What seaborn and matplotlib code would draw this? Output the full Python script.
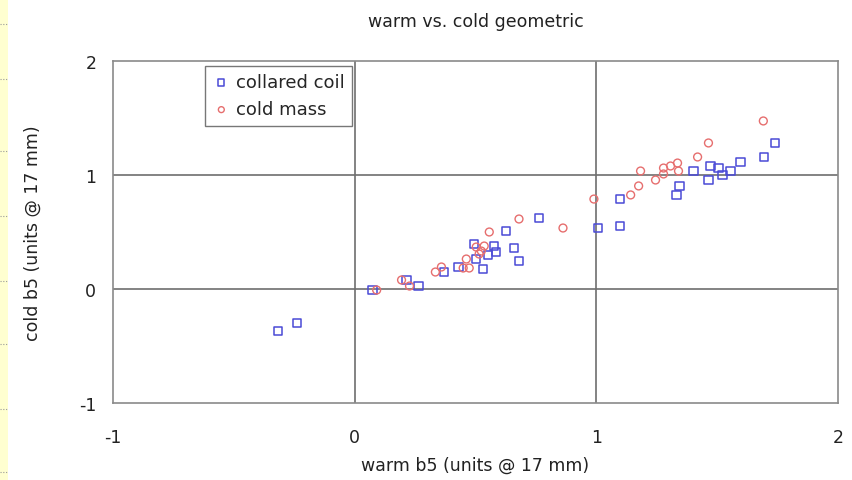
import numpy as np
import pandas as pd
import matplotlib
matplotlib.use("Agg")
import matplotlib.pyplot as plt
import seaborn as sns
from matplotlib.patches import Rectangle
from matplotlib.lines import Line2D

# ---- data ----
coil_warm = [-0.318, -0.239, 0.074, 0.214, 0.264, 0.371, 0.429, 0.532, 0.495, 0.503,
             0.577, 0.586, 0.553, 0.627, 0.660, 0.680, 0.763, 1.006, 1.097, 1.097,
             1.332, 1.344, 1.402, 1.464, 1.472, 1.505, 1.522, 1.555, 1.596, 1.695, 1.740]
coil_cold = [-0.368, -0.298, -0.009, 0.079, 0.026, 0.149, 0.193, 0.175, 0.395, 0.263,
             0.377, 0.325, 0.298, 0.509, 0.360, 0.246, 0.623, 0.535, 0.553, 0.789,
             0.825, 0.904, 1.035, 0.956, 1.079, 1.061, 0.999, 1.035, 1.114, 1.158, 1.281]

mass_warm = [0.091, 0.194, 0.227, 0.334, 0.359, 0.449, 0.474, 0.462, 0.503, 0.515,
             0.524, 0.536, 0.557, 0.680, 0.862, 0.990, 1.142, 1.175, 1.183, 1.245,
             1.278, 1.278, 1.307, 1.336, 1.340, 1.419, 1.464, 1.691]
mass_cold = [-0.009, 0.079, 0.026, 0.149, 0.193, 0.184, 0.184, 0.263, 0.368, 0.307,
             0.333, 0.377, 0.500, 0.614, 0.535, 0.789, 0.825, 0.904, 1.035, 0.956,
             1.009, 1.061, 1.079, 1.105, 1.035, 1.158, 1.281, 1.474]

series_labels = ["collared coil", "cold mass"]
ticks = [-1, 0, 1, 2]

BLUE = "#4a4ad6"
RED = "#e66e6e"
GRID = "#6e6e6e"

sns.set_theme(style="white")
plt.rcParams["font.family"] = ["DejaVu Sans"]

fig = plt.figure(figsize=(8.53, 4.81), dpi=100)
ax = fig.add_axes([113/853, 1-404/481, (838-113)/853, (404-62)/481])

# left decorative strip
fig.patches.append(Rectangle((0, 0), 8/853, 1, transform=fig.transFigure,
                             facecolor="#ffffd0", edgecolor="none", zorder=0))
for yp in [25, 80, 152, 217, 282, 345, 410, 473]:
    fig.lines.append(Line2D([0, 7/853], [1-yp/481]*2, transform=fig.transFigure,
                            color="#9a9a9a", lw=0.8, ls=(0, (1, 1.5))))

df_coil = pd.DataFrame({"warm": coil_warm, "cold": coil_cold})
df_mass = pd.DataFrame({"warm": mass_warm, "cold": mass_cold})

sns.scatterplot(data=df_coil, x="warm", y="cold", ax=ax, marker="s", s=36,
                facecolors="none", edgecolor=BLUE, linewidth=1.1,
                label=series_labels[0], zorder=3)
sns.scatterplot(data=df_mass, x="warm", y="cold", ax=ax, marker="o", s=32,
                facecolors="none", edgecolor=RED, linewidth=1.0,
                label=series_labels[1], zorder=3)

ax.set_xlim(-1, 2)
ax.set_ylim(-1, 2)
ax.set_xticks(ticks)
ax.set_yticks(ticks)
ax.set_xticklabels([str(t) for t in ticks])
ax.set_yticklabels([str(t) for t in ticks])
for v in [0, 1]:
    ax.axvline(v, color=GRID, lw=1.2, zorder=1)
    ax.axhline(v, color=GRID, lw=1.2, zorder=1)
for sp in ax.spines.values():
    sp.set_color("#8a8a8a")
    sp.set_linewidth(1.2)

ax.tick_params(axis="x", length=0, pad=18, labelsize=12.5, colors="#222222")
ax.tick_params(axis="y", length=0, pad=12, labelsize=12.5, colors="#222222")
ax.set_xlabel("warm b5 (units @ 17 mm)", fontsize=12.5, color="#222222", labelpad=7)
ax.set_ylabel("cold b5 (units @ 17 mm)", fontsize=12.5, color="#222222", labelpad=27)
ax.set_title("warm vs. cold geometric", fontsize=12.5, color="#222222", pad=25)

leg = ax.legend(loc="upper left", bbox_to_anchor=(0.127, 0.985), fontsize=13,
                frameon=True, fancybox=False, borderpad=0.4, handletextpad=0.3,
                handlelength=1.0, labelspacing=0.5, borderaxespad=0, markerscale=0.75)
leg.get_frame().set_edgecolor("#555555")
leg.get_frame().set_linewidth(1.0)

fig.savefig("out.png", dpi=100)
